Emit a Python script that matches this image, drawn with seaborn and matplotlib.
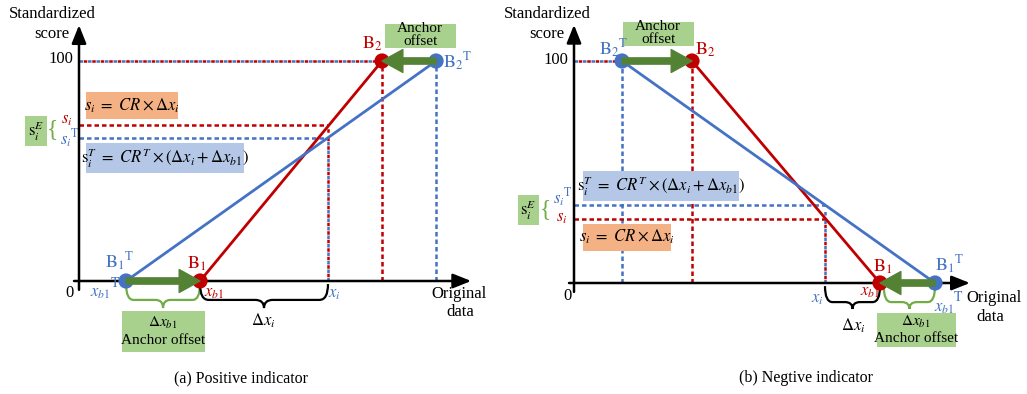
import pandas as pd
import seaborn as sns
import matplotlib.pyplot as plt
from matplotlib.patches import FancyArrowPatch, PathPatch, Rectangle
from matplotlib.path import Path

# values: x in original-data units, y = standardized score
# (a) positive indicator
pos_red_x = [4.86, 12.17]     # B1 -> B2
pos_red_y = [0, 100]
pos_blue_x = [1.89, 14.34]    # B1^T -> B2^T
pos_blue_y = [0, 100]
pos_xi = 10.0
pos_si, pos_siT = 71, 65

# (b) negative indicator
neg_red_x = [4.74, 12.29]     # B2 -> B1
neg_red_y = [100, 0]
neg_blue_x = [1.93, 14.5]     # B2^T -> B1^T
neg_blue_y = [100, 0]
neg_xi = 10.08
neg_si, neg_siT = 29, 35

RED = '#C00000'
BLUE = '#4472C4'
GREEN = '#548235'
GREEN_BOX = '#A9D18E'
ORANGE_BOX = '#F4B183'
BLUE_BOX = '#B4C7E7'
BRACE_GREEN = '#70AD47'

sns.set_theme(style='white')
plt.rcParams['font.family'] = ['Liberation Serif', 'DejaVu Serif']
plt.rcParams['mathtext.fontset'] = 'stix'

W, H = 1027, 394
fig = plt.figure(figsize=(W / 100, H / 100), dpi=100)


def make_axes(left_px, right_px, ox, oy, sx, sy, bottom_px=355):
    ax = fig.add_axes([left_px / W, 1 - bottom_px / H, (right_px - left_px) / W, bottom_px / H])
    ax.set_xlim((left_px - ox) / sx, (right_px - ox) / sx)
    ax.set_ylim((oy - bottom_px) / sy, oy / sy)
    ax.axis('off')
    return ax


def label(x, y, s, color='black', size=12, **kw):
    kw.setdefault('ha', 'center')
    kw.setdefault('va', 'center')
    fig.text(x / W, 1 - y / H, s, color=color, fontsize=size, zorder=7, **kw)


def box(x0, y0, x1, y1, color):
    fig.add_artist(Rectangle((x0 / W, 1 - y1 / H), (x1 - x0) / W, (y1 - y0) / H,
                             transform=fig.transFigure, fc=color, ec='none', zorder=6))


def hbrace(ax, x0, x1, y0, y1, y2, color, r=0.35):
    xm = (x0 + x1) / 2
    verts = [(x0, y0), (x0, y1), (x0 + r, y1), (xm - r, y1), (xm, y1), (xm, y2),
             (xm, y1), (xm + r, y1), (x1 - r, y1), (x1, y1), (x1, y0)]
    codes = [Path.MOVETO, Path.CURVE3, Path.CURVE3, Path.LINETO, Path.CURVE3, Path.CURVE3,
             Path.CURVE3, Path.CURVE3, Path.LINETO, Path.CURVE3, Path.CURVE3]
    ax.add_patch(PathPatch(Path(verts, codes), fc='none', ec=color, lw=1.6, zorder=3))


def dashed(ax, xs, ys, color, shared=None):
    # shared=0/1: two colours alternate dash by dash on the same line
    if shared is None:
        ls = (0, (1.8, 1.2))
    else:
        ls = (shared * 1.7, (1.4, 2.0))
    ax.plot(xs, ys, color=color, lw=1.8, ls=ls, zorder=1)


def draw_panel(ax, red_x, red_y, blue_x, blue_y, xi, si, siT, x_end):
    arrow = dict(arrowstyle='-|>,head_length=0.55,head_width=0.22',
                 mutation_scale=20, lw=1.8, color='black', shrinkA=0, shrinkB=0)
    ax.annotate('', xy=(0, 116.3), xytext=(0, -4), arrowprops=arrow)
    ax.annotate('', xy=(x_end, 0), xytext=(-0.2, 0), arrowprops=arrow)

    r_top = red_x[red_y.index(100)]
    b_top = blue_x[blue_y.index(100)]
    r_bot = red_x[red_y.index(0)]
    b_bot = blue_x[blue_y.index(0)]

    # guide lines
    dashed(ax, [0, b_top], [100, 100], BLUE, shared=0)
    dashed(ax, [0, r_top], [100, 100], RED, shared=1)
    dashed(ax, [r_top, r_top], [0, 100], RED)
    dashed(ax, [b_top, b_top], [0, 100], BLUE)
    dashed(ax, [0, xi], [si, si], RED)
    dashed(ax, [0, xi], [siT, siT], BLUE)
    dashed(ax, [xi, xi], [0, siT], BLUE, shared=0)
    dashed(ax, [xi, xi], [0, si], RED, shared=1)

    lines = pd.DataFrame({
        'x': red_x + blue_x,
        'y': red_y + blue_y,
        'series': ['standard'] * 2 + ['transformed'] * 2,
    })
    pal = {'standard': RED, 'transformed': BLUE}
    sns.lineplot(data=lines, x='x', y='y', hue='series', palette=pal, sort=False,
                 legend=False, lw=2, ax=ax, zorder=2)
    sns.scatterplot(data=lines, x='x', y='y', hue='series', palette=pal, s=120,
                    linewidth=0, legend=False, ax=ax, zorder=4)
    ax.set_xlabel('')
    ax.set_ylabel('')

    # anchor offset arrows (transformed anchor -> standard anchor)
    for x0, x1, y in [(b_bot, r_bot, 0), (b_top, r_top, 100)]:
        ax.add_patch(FancyArrowPatch((x0, y), (x1, y),
                                     arrowstyle='simple,head_length=1.0,head_width=1.1,tail_width=0.3',
                                     mutation_scale=15, color=GREEN, shrinkA=0, shrinkB=0, zorder=5))
    return r_bot, b_bot


# ---------------- (a) positive indicator ----------------
axa = make_axes(0, 513, 79, 281, 24.9, 2.2)
r_bot, b_bot = draw_panel(axa, pos_red_x, pos_red_y, pos_blue_x, pos_blue_y,
                          pos_xi, pos_si, pos_siT, 15.75)
hbrace(axa, b_bot, r_bot, -1.4, -8.6, -12.3, BRACE_GREEN, r=0.3)
hbrace(axa, r_bot, pos_xi, -1.4, -8.6, -12.3, 'black')

label(52, 24, 'Standardized\nscore', linespacing=1.25)
label(73, 59, '100', ha='right')
label(70, 293, '0')
label(120, 262, r'$\mathrm{B}_1{}^{\mathrm{T}}$', BLUE, 13)
label(197, 264, r'$\mathrm{B}_1$', RED, 13)
label(372, 44, r'$\mathrm{B}_2$', RED, 13)
label(458, 62, r'$\mathrm{B}_2{}^{\mathrm{T}}$', BLUE, 13)
label(100, 293, r'$x_{b1}$', BLUE, 12)
label(115, 283, r'$\mathrm{T}$', BLUE, 10)
label(214, 293, r'$x_{b1}$', RED, 12)
label(334, 294, r'$x_i$', BLUE, 12)
label(263, 321, r'$\Delta x_i$', size=12)
label(459, 294, 'Original', size=12)
label(460, 312, 'data', size=12)

box(122, 311, 205, 352, GREEN_BOX)
label(163, 323, r'$\Delta x_{b1}$', size=11)
label(163, 340, 'Anchor offset', size=11)
box(385, 24, 456, 48, GREEN_BOX)
label(420, 35, 'Anchor\noffset', size=11, linespacing=0.95)

box(86, 92, 178, 119, ORANGE_BOX)
label(132, 106, r'$s_i\ =\ CR\times\Delta x_i$', size=12)
box(86, 143, 244, 173, BLUE_BOX)
label(165, 158, r'$\mathrm{s}_i^{T}\ =\ CR^{T}\times(\Delta x_i+\Delta x_{b1})$', size=12)

box(25, 116, 47, 146, GREEN_BOX)
label(36, 131, r'$\mathrm{s}_i^{E}$', size=12)
label(52, 130, '{', BRACE_GREEN, 17, fontweight='light')
label(67, 120, r'$s_i$', RED, 12)
label(70, 139, r'$s_i{}^{\mathrm{T}}$', BLUE, 12)

label(241, 378, '(a) Positive indicator', size=11.5)

# ---------------- (b) negative indicator ----------------
axb = make_axes(513, 1027, 574, 283, 24.9, 2.22)
r_bot, b_bot = draw_panel(axb, neg_red_x, neg_red_y, neg_blue_x, neg_blue_y,
                          neg_xi, neg_si, neg_siT, 15.9)
hbrace(axb, neg_xi, r_bot, -1.4, -8.6, -11.7, 'black', r=0.3)
hbrace(axb, r_bot + 0.15, b_bot, -1.4, -8.6, -11.7, BRACE_GREEN, r=0.3)

label(547, 24, 'Standardized\nscore', linespacing=1.25)
label(568, 60, '100', ha='right')
label(568, 296, '0')
label(614, 49, r'$\mathrm{B}_2{}^{\mathrm{T}}$', BLUE, 13)
label(705, 50, r'$\mathrm{B}_2$', RED, 13)
label(883, 267, r'$\mathrm{B}_1$', RED, 13)
label(950, 265, r'$\mathrm{B}_1{}^{\mathrm{T}}$', BLUE, 13)
label(870, 292, r'$x_{b1}$', RED, 12)
label(944, 308, r'$x_{b1}$', BLUE, 12)
label(958, 297, r'$\mathrm{T}$', BLUE, 10)
label(994, 298, 'Original', size=12)
label(990, 317, 'data', size=12)
label(817, 299, r'$x_i$', BLUE, 12)
label(853, 326, r'$\Delta x_i$', size=12)

box(877, 313, 956, 347, GREEN_BOX)
label(916, 322, r'$\Delta x_{b1}$', size=11)
label(916, 338, 'Anchor offset', size=11)
box(623, 22, 694, 46, GREEN_BOX)
label(658, 33, 'Anchor\noffset', size=11, linespacing=0.95)

box(583, 171, 739, 201, BLUE_BOX)
label(661, 186, r'$\mathrm{s}_i^{T}\ =\ CR^{T}\times(\Delta x_i+\Delta x_{b1})$', size=12)
box(583, 224, 671, 251, ORANGE_BOX)
label(627, 237, r'$s_i\ =\ CR\times\Delta x_i$', size=12)

box(518, 195, 539, 225, GREEN_BOX)
label(528, 210, r'$\mathrm{s}_i^{E}$', size=12)
label(545, 210, '{', BRACE_GREEN, 17, fontweight='light')
label(563, 198, r'$s_i{}^{\mathrm{T}}$', BLUE, 12)
label(562, 218, r'$s_i$', RED, 12)

label(806, 378, '(b) Negtive indicator', size=11.5)

fig.savefig('out.png', dpi=100, facecolor='white')
